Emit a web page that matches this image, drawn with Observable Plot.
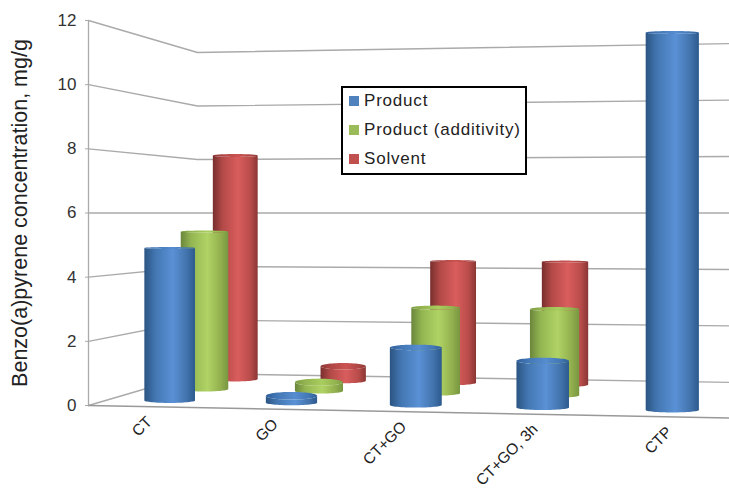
<!DOCTYPE html>
<html>
<head>
<meta charset="utf-8">
<script src="https://cdn.jsdelivr.net/npm/d3@7"></script>
<script src="https://cdn.jsdelivr.net/npm/@observablehq/plot@0.6"></script>
<style>
  html, body { margin: 0; padding: 0; background: #fff; }
  #chart { position: relative; width: 729px; height: 488px; overflow: hidden; }
  #legend {
    position: absolute; left: 341px; top: 86px; width: 182px; height: 85px;
    background: #fff; border: 2px solid #000;
    font: 17px "Liberation Sans", Arial, sans-serif; letter-spacing: 0.8px; color: #222;
  }
  #legend .row { position: absolute; left: 6px; height: 20px; display: flex; align-items: center; white-space: nowrap; }
  #legend .swatch { width: 10px; height: 10px; margin-right: 5px; display: inline-block; }
</style>
</head>
<body>
<div id="chart"></div>
<script>
// Benzo(a)pyrene concentration, mg/g, per sample and series
const categories = ["CT", "GO", "CT+GO", "CT+GO, 3h", "CTP"];
const product = [4.88, 0.22, 1.8, 1.44, 11.5];
const additivity = [5.37, 0.3, 2.85, 2.84, null];
const solvent = [8.08, 0.52, 4.3, 4.3, null];
const yTicks = [0, 2, 4, 6, 8, 10, 12];
const seriesNames = ["Product", "Product (additivity)", "Solvent"];
const seriesColors = ["#4f81bd", "#9bbb59", "#c0504d"];

// Floor of the 3D box in axis units: front-left, front-right, back-right, back-left.
const floorQuad = [[0, 0], [1, -0.396], [0.9969, 0.717], [0.1677, 0.9975]];
const horizon = 6; // value level at which every depth meets the same height

// Unit square to floor quad (perspective transform).
function makeFloor([[x0, y0], [x1, y1], [x2, y2], [x3, y3]]) {
  const dx1 = x1 - x2, dx2 = x3 - x2, sx = x0 - x1 + x2 - x3;
  const dy1 = y1 - y2, dy2 = y3 - y2, sy = y0 - y1 + y2 - y3;
  const den = dx1 * dy2 - dx2 * dy1;
  const g = (sx * dy2 - dx2 * sy) / den, h = (dx1 * sy - sx * dy1) / den;
  const a = x1 - x0 + g * x1, b = x3 - x0 + h * x3;
  const d = y1 - y0 + g * y1, e = y3 - y0 + h * y3;
  return (u, v) => {
    const w = g * u + h * v + 1;
    return [(a * u + b * v + x0) / w, (d * u + e * v + y0) / w];
  };
}
const floor = makeFloor(floorQuad);

// Project a point (u along categories, v into depth, value up) to axis units.
function project(u, v, value) {
  const [x, y] = floor(u, v);
  return [x, y + value * (horizon - y) / horizon];
}

const catU = (i) => (i + 0.5) / categories.length;
const rowV = (s) => (s + 0.5) / 3;

// Wall and floor grid lines
const gridPoints = yTicks.flatMap((t) => [
  [0, 0], [0, 1], [1, 1]
].map(([u, v]) => {
  const [x, y] = project(u, v, t);
  return { x, y, id: t };
}));
const floorFront = [[0, 0], [1, 0]].map(([u, v]) => {
  const [x, y] = project(u, v, 0);
  return { x, y };
});

// One cylinder per value, as a body outline and a top cap
const steps = 32;
function cylinder(value, c, s) {
  const u = catU(c), v = rowV(s);
  const [bx, by] = project(u, v, 0);
  const [, ty] = project(u, v, value);
  const k = (horizon - by) / horizon;
  const rx = 0.04 * k;
  // Caps open up below eye level and stay nearly flat above it
  const ryTop = ty > horizon ? 0.045 : Math.max(0.03, 0.021 * (horizon - ty));
  const ryBottom = 0.078;
  const id = `${c}-${s}`;
  const body = [];
  const cap = [];
  for (let i = 0; i <= steps; ++i) {
    const t = Math.PI * i / steps;
    body.push({ x: bx - rx * Math.cos(t), y: by - ryBottom * Math.sin(t), id });
  }
  for (let i = 0; i <= steps; ++i) {
    const t = Math.PI * i / steps;
    body.push({ x: bx + rx * Math.cos(t), y: ty - ryTop * Math.sin(t), id });
  }
  for (let i = 0; i <= 2 * steps; ++i) {
    const t = Math.PI * i / steps;
    cap.push({ x: bx + rx * Math.cos(t), y: ty + ryTop * Math.sin(t), id });
  }
  return { body, cap };
}

const seriesValues = [product, additivity, solvent];
const gradientIds = ["cylBlue", "cylGreen", "cylRed"];
const capIds = ["capBlue", "capGreen", "capRed"];
const stops = [
  ["#2b5482", "#4377b2", "#5a91d6", "#4273ac", "#2d5a8e"],
  ["#6a863b", "#94b652", "#b0d365", "#92b04e", "#789640"],
  ["#782f2e", "#b34a48", "#da5d5d", "#b84c4a", "#8a3634"]
];
const capStops = [
  ["#2e5f9b", "#4377b5", "#568dd0", "#4377b5", "#2e5f9b"],
  ["#7d9c43", "#93b44f", "#a9cd5e", "#93b44f", "#7d9c43"],
  ["#8f3634", "#ad4644", "#cc5452", "#ad4644", "#8f3634"]
];
const stopOffsets = ["0%", "22%", "56%", "84%", "100%"];

// Back row first so nearer cylinders overlap it
const cylinderMarks = [2, 1, 0].flatMap((s) => {
  const shapes = seriesValues[s]
    .map((value, c) => (value == null ? null : cylinder(value, c, s)))
    .filter(Boolean);
  return [
    Plot.line(shapes.flatMap((d) => d.body), {
      x: "x", y: "y", z: "id", fill: `url(#${gradientIds[s]})`, stroke: "none"
    }),
    Plot.line(shapes.flatMap((d) => d.cap), {
      x: "x", y: "y", z: "id", fill: `url(#${capIds[s]})`, stroke: "none"
    })
  ];
});

function gradientDefs() {
  const defs = d3.create("svg:defs");
  const add = (id, colors) => {
    const g = defs.append("linearGradient").attr("id", id)
      .attr("x1", 0).attr("x2", 1).attr("y1", 0).attr("y2", 0);
    colors.forEach((color, i) => {
      g.append("stop").attr("offset", stopOffsets[i]).attr("stop-color", color);
    });
  };
  gradientIds.forEach((id, i) => add(id, stops[i]));
  capIds.forEach((id, i) => add(id, capStops[i]));
  return defs.node();
}

const categoryLabels = categories.map((name, i) => {
  const [x, y] = project(catU(i), 0, 0);
  return { name, x, y };
});

const gridColor = "#aaaaaa";
const plot = Plot.plot({
  width: 729,
  height: 488,
  marginLeft: 88,
  marginTop: 20,
  marginBottom: 83,
  marginRight: 0,
  x: { domain: [0, 1], range: [88, 738], axis: null },
  y: { domain: [0, 12] },
  style: { fontFamily: '"Liberation Sans", Arial, sans-serif', background: "#fff", color: "#333" },
  marks: [
    gradientDefs,
    Plot.line(gridPoints, { x: "x", y: "y", z: "id", stroke: gridColor, strokeWidth: 1.4 }),
    Plot.line(floorFront, { x: "x", y: "y", stroke: "#999", strokeWidth: 1.5 }),
    Plot.ruleX([0], { y1: 0, y2: 12, stroke: gridColor, strokeWidth: 1.3 }),
    Plot.axisY({ ticks: yTicks, tickSize: 3, tickPadding: 9, label: null, fontSize: 17, stroke: gridColor }),
    Plot.text(["Benzo(a)pyrene concentration, mg/g"], {
      x: 0, y: 6, dx: -68, rotate: -90, fontSize: 21.5, fill: "#222"
    }),
    ...cylinderMarks,
    Plot.text(categoryLabels, {
      x: "x", y: "y", text: "name", rotate: -45, textAnchor: "end",
      dx: -1, dy: 12.5, fontSize: 15.5, fill: "#222"
    })
  ]
});

const chart = document.getElementById("chart");
chart.appendChild(plot);

// Legend box sitting over the back wall
const legend = document.createElement("div");
legend.id = "legend";
seriesNames.forEach((name, i) => {
  const row = document.createElement("div");
  row.className = "row";
  row.style.top = `${3 + i * 29}px`;
  const swatch = document.createElement("span");
  swatch.className = "swatch";
  swatch.style.background = seriesColors[i];
  row.append(swatch, name);
  legend.appendChild(row);
});
chart.appendChild(legend);
</script>
</body>
</html>
